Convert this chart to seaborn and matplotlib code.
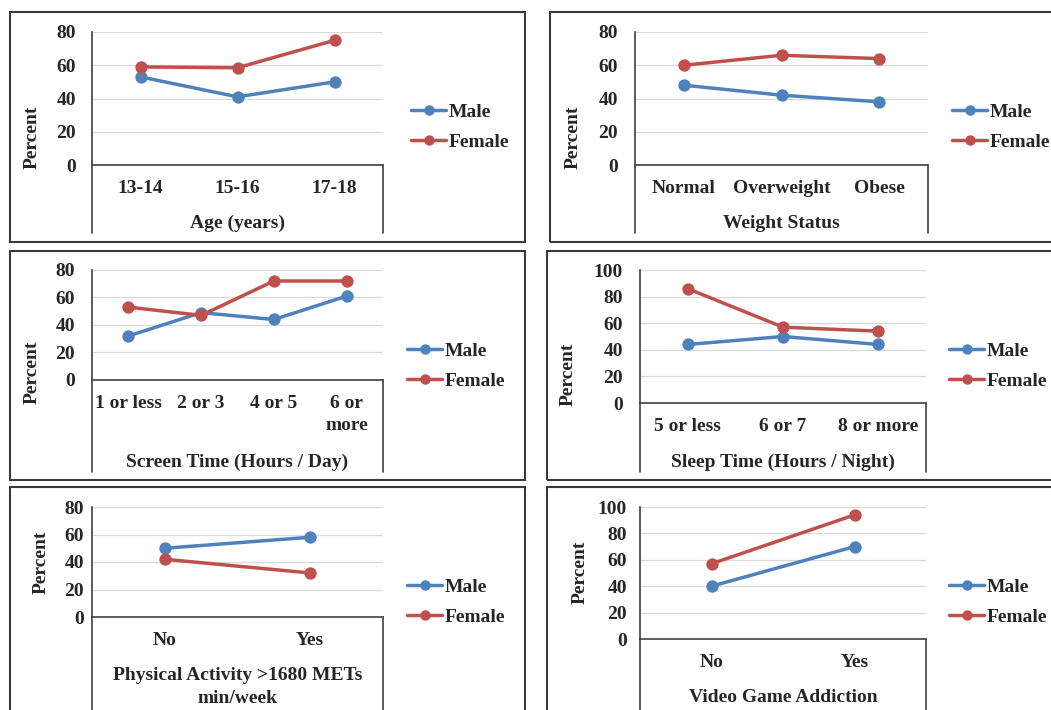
import matplotlib
matplotlib.use("Agg")
import matplotlib.pyplot as plt
import seaborn as sns
import pandas as pd
from matplotlib.patches import Rectangle
from matplotlib.lines import Line2D

# ---------------- data ----------------
sexes = ["Male", "Female"]

age_cats = ["13-14", "15-16", "17-18"]
age_male = [53, 41, 50]
age_female = [59, 58.5, 75]

weight_cats = ["Normal", "Overweight", "Obese"]
weight_male = [48, 42, 38]
weight_female = [60, 66, 64]

screen_cats = ["1 or less", "2 or 3", "4 or 5", "6 or\nmore"]
screen_male = [32, 49, 44, 61]
screen_female = [53, 47, 72, 72]

sleep_cats = ["5 or less", "6 or 7", "8 or more"]
sleep_male = [44, 50, 44]
sleep_female = [86, 57, 54]

pa_cats = ["No", "Yes"]
pa_male = [50, 58]
pa_female = [42, 32]

vg_cats = ["No", "Yes"]
vg_male = [40, 70]
vg_female = [57, 94]

titles = ["Age (years)", "Weight Status", "Screen Time (Hours / Day)",
          "Sleep Time (Hours / Night)", "Physical Activity >1680 METs\nmin/week",
          "Video Game Addiction"]
ymaxes = [80, 80, 80, 100, 80, 100]
panels = [(age_cats, age_male, age_female), (weight_cats, weight_male, weight_female),
          (screen_cats, screen_male, screen_female), (sleep_cats, sleep_male, sleep_female),
          (pa_cats, pa_male, pa_female), (vg_cats, vg_male, vg_female)]

# ---------------- layout (pixels) ----------------
W, H = 1051, 710
plot_px = [(92, 383, 32, 165), (635, 928, 32, 165),
           (92, 383, 270, 380), (640, 926, 270, 403),
           (92, 383, 507, 617), (640, 926, 507, 639)]
ext_bottom = [233, 233, 472, 472, 720, 720]
frames = [(10, 12, 525, 242), (550, 12, 1062, 242),
          (10, 251, 525, 480), (547, 251, 1062, 480),
          (10, 487, 525, 722), (547, 487, 1062, 722)]
percent_pos = [(32, 137), (573, 137), (32, 372), (568, 374), (41, 562), (580, 572)]
title_off = [58, 58, 82, 59, 70, 58]
ytick_pad = [16, 17, 17, 17, 8, 13]
legend_pos = [(411, 127), (952, 127), (407, 366), (949, 366), (407, 602), (949, 602)]

BLUE = "#4F81BD"
RED = "#C0504D"
AX = "#404040"
FS = 14

sns.set_style("white")
plt.rcParams["font.family"] = ["Liberation Serif", "DejaVu Serif"]
plt.rcParams["font.weight"] = "bold"

fig = plt.figure(figsize=(W / 100, H / 100), dpi=100)
fig.patch.set_facecolor("white")

for i, (cats, male, female) in enumerate(panels):
    x0, x1, yt, yb = plot_px[i]
    ax = fig.add_axes([x0 / W, 1 - yb / H, (x1 - x0) / W, (yb - yt) / H])
    df = pd.DataFrame({
        "cat": cats * 2,
        "pct": list(male) + list(female),
        "sex": [sexes[0]] * len(cats) + [sexes[1]] * len(cats),
    })
    sns.pointplot(data=df, x="cat", y="pct", hue="sex", order=cats, hue_order=sexes,
                  palette=[BLUE, RED], markers="o", linestyles="-", errorbar=None,
                  legend=False, ax=ax, markersize=7, linewidth=2.5)
    ax.set_xlim(-0.5, len(cats) - 0.5)
    ymax = ymaxes[i]
    ax.set_ylim(0, ymax)
    ax.set_yticks(range(0, ymax + 1, 20))
    ax.set_xlabel("")
    ax.set_ylabel("")
    ax.grid(axis="y", color="#D9D9D9", lw=0.9)
    ax.grid(axis="x", visible=False)
    ax.set_axisbelow(True)
    for s in ["top", "right"]:
        ax.spines[s].set_visible(False)
    for s in ["left", "bottom"]:
        ax.spines[s].set_color(AX)
        ax.spines[s].set_linewidth(1.2)
    ax.tick_params(axis="y", length=0, pad=ytick_pad[i] * 0.72, labelsize=FS)
    ax.tick_params(axis="x", length=0, pad=10.5, labelsize=FS)
    for t in ax.get_xticklabels() + ax.get_yticklabels():
        t.set_fontweight("bold")
    for t in ax.get_xticklabels():
        t.set_linespacing(1.4)

    # category box lines extending below the axis
    for xx in (x0, x1):
        fig.add_artist(Line2D([xx / W, xx / W], [1 - yb / H, 1 - ext_bottom[i] / H],
                              transform=fig.transFigure, color=AX, lw=1.2))

    # axis title
    ax.annotate(titles[i], xy=(0.5, 0), xycoords="axes fraction",
                xytext=(0, -title_off[i] * 0.72), textcoords="offset points",
                ha="center", va="center", fontsize=FS, fontweight="bold",
                linespacing=1.5)

    # Percent label
    px, py = percent_pos[i]
    fig.text(px / W, 1 - py / H, "Percent", rotation=90, ha="center", va="center",
             fontsize=FS, fontweight="bold")

    # legend
    handles = [Line2D([], [], color=c, marker="o", lw=2.5, ms=6.5) for c in (BLUE, RED)]
    lx, ly = legend_pos[i]
    ax.legend(handles, sexes, loc="center left", bbox_to_anchor=(lx / W, 1 - ly / H),
              bbox_transform=fig.transFigure, frameon=False, borderpad=0,
              borderaxespad=0, handlelength=1.8, handletextpad=0.12,
              labelspacing=0.62, prop={"size": FS, "weight": "bold"})

    # frame
    fx0, fy0, fx1, fy1 = frames[i]
    fig.add_artist(Rectangle((fx0 / W, 1 - fy1 / H), (fx1 - fx0) / W, (fy1 - fy0) / H,
                             transform=fig.transFigure, fill=False, ec="#3A3A3A",
                             lw=1.5))

fig.savefig("out.png", dpi=100, facecolor="white")
